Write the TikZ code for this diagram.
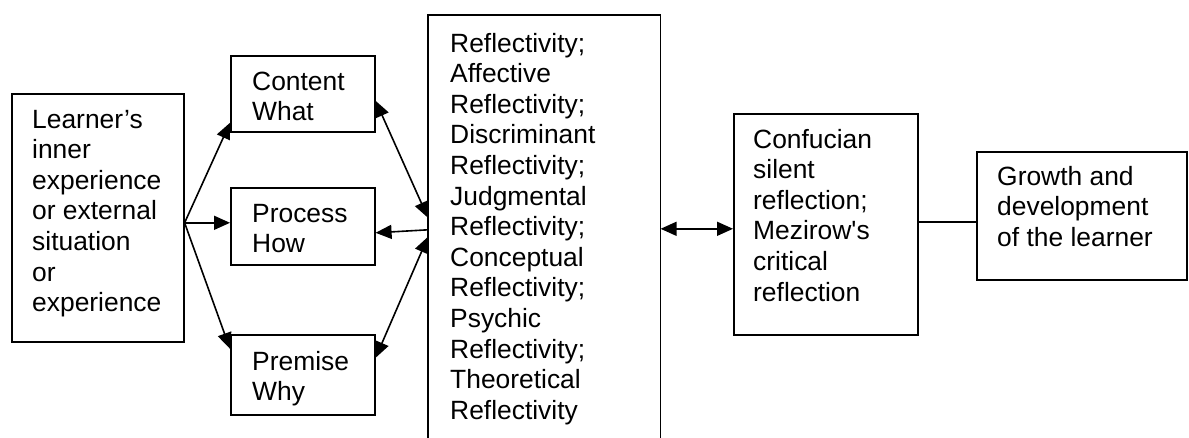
\documentclass[tikz,border=0pt]{standalone}
\usepackage{fontspec}
\setmainfont{Liberation Sans}
\usetikzlibrary{arrows.meta}
% left-aligned block of lines whose baseline is the first line
\newcommand{\linesof}[1]{\begin{tabular}[t]{@{}l@{}}#1\end{tabular}}
\begin{document}
\begin{tikzpicture}[x=1pt,y=-1pt,
  box/.style={draw, line width=1.6pt, rectangle, inner sep=0pt, anchor=north west},
  txt/.style={anchor=base west, inner sep=0pt, font=\fontsize{26.4}{30.6}\selectfont},
  link/.style={line width=1.6pt},
  tip/.tip={Triangle[length=16pt,width=14pt]},
  arr/.style={link, -tip},
  darr/.style={link, tip-tip}]
\useasboundingbox (0,0) rectangle (1189,437);

% boxes
\node[box, minimum width=172pt, minimum height=248pt] (learn) at (11,93) {};
\node[box, minimum width=144pt, minimum height=76pt]  (cont)  at (230,55) {};
\node[box, minimum width=144pt, minimum height=77pt]  (proc)  at (230,187) {};
\node[box, minimum width=144pt, minimum height=80pt]  (prem)  at (230,334) {};
\node[box, draw=none, minimum width=231pt, minimum height=422pt] (refl) at (428,15) {};
\draw[link] (refl.south west) -- (refl.north west) -- (refl.north east) -- (refl.south east);
\node[box, minimum width=184pt, minimum height=221pt] (conf)  at (733,113) {};
\node[box, minimum width=210pt, minimum height=128pt] (grow)  at (976,151) {};

% texts
\node[txt] (learn-t) at (32,128) {\linesof{Learner’s\\inner\\experience\\or external\\situation\\or\\experience}};
\node[txt] (cont-t) at (252,90) {\linesof{Content\\What}};
\node[txt] (proc-t) at (252,222) {\linesof{Process\\How}};
\node[txt] (prem-t) at (252,370) {\linesof{Premise\\Why}};
\node[txt] (refl-t) at (450,52) {\linesof{Reflectivity;\\Affective\\Reflectivity;\\Discriminant\\Reflectivity;\\Judgmental\\Reflectivity;\\Conceptual\\Reflectivity;\\Psychic\\Reflectivity;\\Theoretical\\Reflectivity}};
\node[txt] (conf-t) at (753,148) {\linesof{Confucian\\silent\\reflection;\\Mezirow\textquotesingle s\\critical\\reflection}};
\node[txt] (grow-t) at (997,185) {\linesof{Growth and\\development\\of the learner}};

% connectors
\coordinate (fan) at ([yshift=-5pt]learn.east);
\draw[arr] (fan) -- ([yshift=-29pt]cont.west);
\draw[arr] (fan) -- ([yshift=3.5pt]proc.west);
\draw[arr] (fan) -- ([yshift=26pt]prem.west);

\draw[darr] ([yshift=-7pt]cont.east) -- ([yshift=9pt]refl.west);
\draw[arr]  ([yshift=-3pt]refl.west) -- ([yshift=-6.5pt]proc.east);
\draw[darr] ([yshift=17pt]prem.east) -- ([yshift=-10pt]refl.west);

\draw[darr] ([yshift=-2pt]refl.east) -- ([yshift=-4.5pt]conf.west);
\draw[link] ([yshift=2.5pt]conf.east) -- ([yshift=-6pt]grow.west);
\end{tikzpicture}
\end{document}
